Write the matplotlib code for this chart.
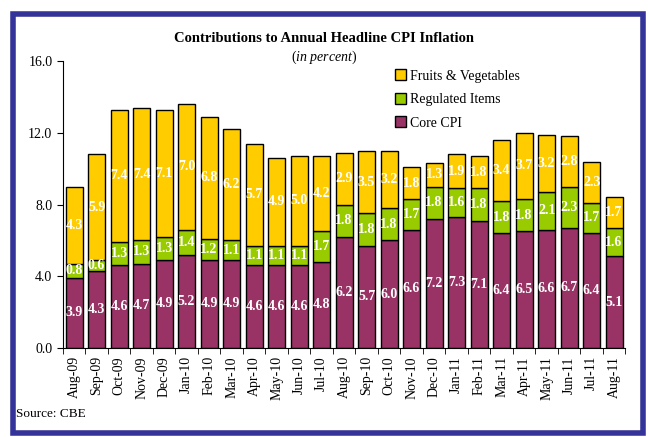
import numpy as np
import matplotlib
matplotlib.use("Agg")
import matplotlib.pyplot as plt
from matplotlib.patches import Rectangle

months = ["Aug-09", "Sep-09", "Oct-09", "Nov-09", "Dec-09", "Jan-10", "Feb-10",
          "Mar-10", "Apr-10", "May-10", "Jun-10", "Jul-10", "Aug-10", "Sep-10",
          "Oct-10", "Nov-10", "Dec-10", "Jan-11", "Feb-11", "Mar-11", "Apr-11",
          "May-11", "Jun-11", "Jul-11", "Aug-11"]
core = [3.9, 4.3, 4.6, 4.7, 4.9, 5.2, 4.9, 4.9, 4.6, 4.6, 4.6, 4.8, 6.2, 5.7,
        6.0, 6.6, 7.2, 7.3, 7.1, 6.4, 6.5, 6.6, 6.7, 6.4, 5.1]
regulated = [0.8, 0.6, 1.3, 1.3, 1.3, 1.4, 1.2, 1.1, 1.1, 1.1, 1.1, 1.7, 1.8,
             1.8, 1.8, 1.7, 1.8, 1.6, 1.8, 1.8, 1.8, 2.1, 2.3, 1.7, 1.6]
fruits = [4.3, 5.9, 7.4, 7.4, 7.1, 7.0, 6.8, 6.2, 5.7, 4.9, 5.0, 4.2, 2.9, 3.5,
          3.2, 1.8, 1.3, 1.9, 1.8, 3.4, 3.7, 3.2, 2.8, 2.3, 1.7]
yticks = [0.0, 4.0, 8.0, 12.0, 16.0]

plt.rcParams['font.family'] = ['Liberation Serif', 'DejaVu Serif']
plt.rcParams['mathtext.fontset'] = 'custom'
plt.rcParams['mathtext.rm'] = 'Liberation Serif'
plt.rcParams['mathtext.it'] = 'Liberation Serif:italic'

fig = plt.figure(figsize=(6.48, 4.37), dpi=100)
ax = fig.add_axes([0.097, 0.204, 0.868, 0.656])

x = np.arange(len(months))
w = 0.76
c_core, c_reg, c_fruit = '#993366', '#99CC00', '#FFCC00'
b1 = ax.bar(x, core, w, color=c_core, edgecolor='black', linewidth=1, label='Core CPI')
b2 = ax.bar(x, regulated, w, bottom=core, color=c_reg, edgecolor='black',
            linewidth=1, label='Regulated Items')
bot2 = np.array(core) + np.array(regulated)
b3 = ax.bar(x, fruits, w, bottom=bot2, color=c_fruit, edgecolor='black',
            linewidth=1, label='Fruits & Vegetables')

# white value labels in the middle of each segment
for i in range(len(months)):
    ax.text(x[i], core[i] / 2, f"{core[i]:.1f}", ha='center', va='center',
            color='white', fontsize=10, fontweight='bold')
    ax.text(x[i], core[i] + regulated[i] / 2, f"{regulated[i]:.1f}", ha='center',
            va='center', color='white', fontsize=10, fontweight='bold')
    ax.text(x[i], bot2[i] + fruits[i] / 2, f"{fruits[i]:.1f}", ha='center',
            va='center', color='white', fontsize=10, fontweight='bold')

ax.set_xlim(-0.5, len(months) - 0.5)
ax.set_ylim(0, 16)
ax.set_yticks(yticks)
ax.set_yticklabels([f"{v:.1f}" for v in yticks], fontsize=10)
ax.set_xticks(x)
ax.set_xticklabels(months, rotation=90, fontsize=10)
ax.tick_params(axis='x', which='major', length=0, pad=6)
ax.set_xticks(np.arange(-0.5, len(months)), minor=True)
ax.tick_params(axis='x', which='minor', length=4, direction='out')
ax.tick_params(axis='y', length=4, direction='out')
ax.spines['top'].set_visible(False)
ax.spines['right'].set_visible(False)

ax.legend(handles=[b3, b2, b1], loc='upper right', bbox_to_anchor=(0.835, 1.015),
          frameon=False, fontsize=10, handlelength=0.8, handleheight=0.8,
          handletextpad=0.3, labelspacing=0.75)

fig.text(0.5, 0.913, "Contributions to Annual Headline CPI Inflation",
         ha='center', va='center', fontsize=10.5, fontweight='bold')
fig.text(0.5, 0.869, r"($\mathit{in\ percent}$)", ha='center', va='center',
         fontsize=10)
fig.text(0.025, 0.052, "Source: CBE", ha='left', va='center', fontsize=9.5)

fig.patches.append(Rectangle((0.02, 0.01), 0.972, 0.958, transform=fig.transFigure,
                             fill=False, edgecolor='#333399', linewidth=4))

fig.savefig("out.png", dpi=100)
